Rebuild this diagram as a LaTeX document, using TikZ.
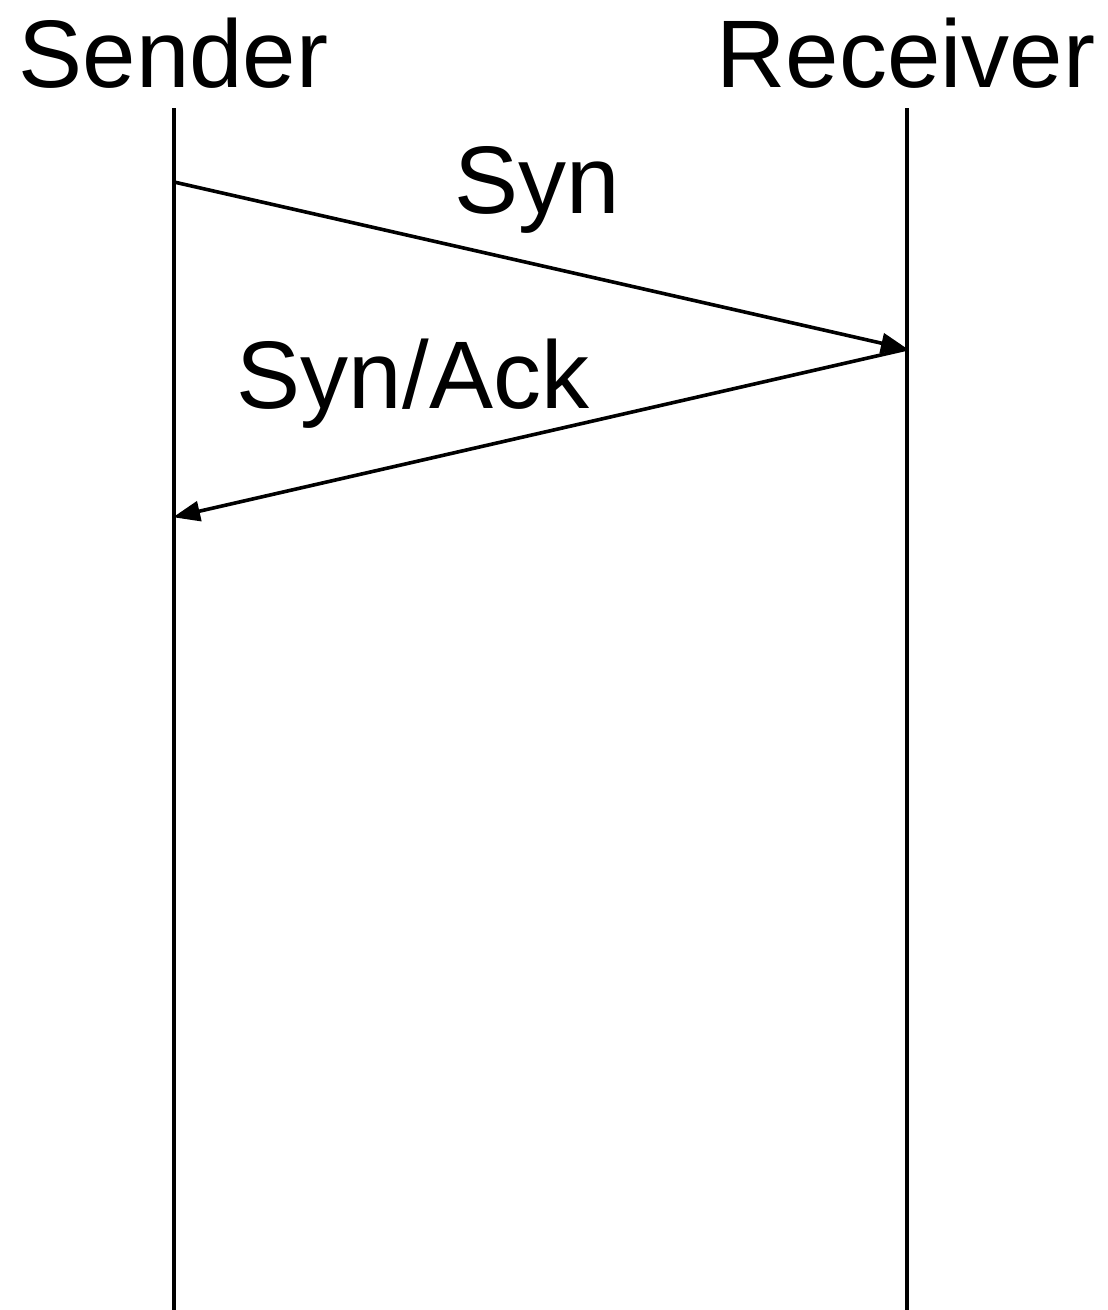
\documentclass[tikz,border=0pt]{standalone}
\usepackage{fontspec}
\setmainfont{Liberation Sans}
\usetikzlibrary{arrows.meta}
\begin{document}
\begin{tikzpicture}[x=1pt,y=-1pt,
  lbl/.style={anchor=base,inner sep=0pt,font=\fontsize{96}{110}\selectfont},
  life/.style={line width=3.6pt},
  msg/.style={line width=3.6pt,-{Triangle[length=27pt,width=20pt]},shorten >=-1pt}]
\useasboundingbox (0,0) rectangle (1108,1310);
\node[lbl] (sender) at (173.5,87) {Sender};
\node[lbl] (receiver) at (906,87) {Receiver};
\coordinate (stop) at (174,108);
\coordinate (sbot) at (174,1310);
\coordinate (rtop) at (907,108);
\coordinate (rbot) at (907,1310);
\coordinate (s1) at (174,182);
\coordinate (r1) at (907,349);
\coordinate (s2) at (174,517);
\draw[life] (stop) -- (sbot);
\draw[life] (rtop) -- (rbot);
\draw[msg] (s1) -- (r1);
\draw[msg] (r1) -- (s2);
\node[lbl] (syn) at (537,213) {Syn};
\node[lbl] (synack) at (413,408) {Syn/Ack};
\end{tikzpicture}
\end{document}
